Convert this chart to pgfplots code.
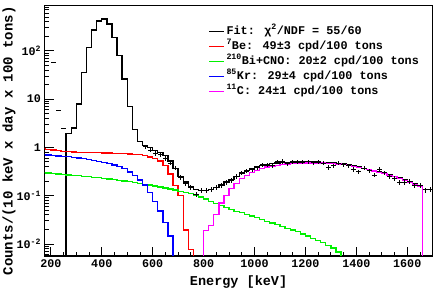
\documentclass[border=0pt]{standalone}
\usepackage{pgfplots}
\pgfplotsset{compat=1.18}
\usepackage{fontspec}
\setmainfont{Liberation Mono}
\definecolor{rootgreen}{RGB}{0,240,0}
\definecolor{rootred}{RGB}{255,0,0}
\definecolor{rootblue}{RGB}{0,0,255}
\definecolor{rootmagenta}{RGB}{255,0,255}
\begin{document}
\begin{tikzpicture}
\begin{axis}[
  scale only axis, width=388.2pt, height=250.3pt,
  xmin=175, xmax=1700, ymode=log, ymin=0.00562, ymax=855,
  axis line style={line width=1.3pt},
  tick pos=left, tick align=inside,
  major tick length=9pt, minor tick length=4.5pt,
  tick style={line width=0.8pt, black},
  xtick={200,400,600,800,1000,1200,1400,1600},
  xticklabels={200,400,600,800,1000,1200,1400,1600},
  minor xtick={250,300,350,450,500,550,650,700,750,850,900,950,1050,1100,1150,1250,1300,1350,1450,1500,1550,1650,1700},
  ytick={0.01,0.1,1,10,100},
  yticklabels={10\textsuperscript{-2},10\textsuperscript{-1},1,10,10\textsuperscript{2}},
  minor ytick={0.006,0.007,0.008,0.009,0.02,0.03,0.04,0.05,0.06,0.07,0.08,0.09,0.2,0.3,0.4,0.5,0.6,0.7,0.8,0.9,2,3,4,5,6,7,8,9,20,30,40,50,60,70,80,90,200,300,400,500,600,700,800},
  tick label style={font=\bfseries\fontsize{11.7}{12}\selectfont},
  xlabel={Energy [keV]},
  ylabel={Counts/(10 keV x day x 100 tons)},
  xlabel style={font=\bfseries\fontsize{13.5}{14}\selectfont, at={(axis description cs:0.5,-0.104)}, anchor=center},
  ylabel style={font=\bfseries\fontsize{14}{15}\selectfont, at={(axis description cs:-0.0914,0.46)}, anchor=center},
  legend style={at={(axis description cs:0.4225,0.929)}, anchor=north west, draw=none, fill=none,
    font=\bfseries\fontsize{11.8}{13}\selectfont, row sep=0pt, inner sep=0pt,
    nodes={inner sep=1.5pt, text height=9pt, text depth=3pt}, cells={anchor=west}},
  legend image code/.code={\draw[#1] (0pt,0pt) -- (15pt,0pt);},
]
% Fit (black)
\addplot[black, line width=1.3pt, const plot] coordinates {
(260,0.0001) (260,1.95) (280,2.5) (300,7.9) (320,35.7) (340,115) (360,268) (380,412) (400,453)
(420,357) (440,189) (460,79) (480,26) (500,6.9) (520,2.35) (540,1.3) (560,1.1) (580,0.98)
(600,0.87) (620,0.78) (640,0.68) (660,0.52) (680,0.37) (700,0.25) (720,0.19) (740,0.155)
(760,0.135) (780,0.127) (800,0.127) (820,0.133) (840,0.147) (860,0.167) (880,0.19) (900,0.215)
(920,0.25) (940,0.29) (960,0.33) (980,0.36) (1000,0.39) (1020,0.42) (1040,0.44) (1060,0.46)
(1080,0.475) (1100,0.485) (1120,0.49) (1140,0.495) (1160,0.5) (1180,0.5) (1200,0.5) (1220,0.5)
(1240,0.495) (1260,0.49) (1280,0.48) (1300,0.47) (1320,0.46) (1340,0.45) (1360,0.43) (1380,0.41)
(1400,0.39) (1420,0.37) (1440,0.35) (1460,0.33) (1480,0.31) (1500,0.29) (1520,0.27) (1540,0.25)
(1560,0.23) (1580,0.21) (1600,0.19) (1620,0.175) (1640,0.16) (1660,0.0001)};
\addlegendentry{Fit: χ\textsuperscript{2}/NDF = 55/60}
% 7Be (red)
\addplot[rootred, line width=1.3pt, const plot] coordinates {
(160,0.93) (180,0.91) (200,0.88) (220,0.86) (240,0.83) (260,0.81) (280,0.80) (300,0.79)
(320,0.785) (340,0.78) (360,0.775) (380,0.77) (400,0.765) (420,0.76) (440,0.75) (460,0.745)
(480,0.735) (500,0.725) (520,0.715) (540,0.70) (560,0.67) (580,0.63) (600,0.58) (620,0.52)
(640,0.42) (660,0.28) (680,0.16) (700,0.10) (720,0.0195) (740,0.0077) (760,0.0001)};
\addlegendentry{\textsuperscript{7}Be: 49±3 cpd/100 tons}
% 210Bi+CNO (green)
\addplot[rootgreen, line width=1.3pt, const plot] coordinates {
(160,0.30) (180,0.295) (200,0.288) (220,0.281) (240,0.275) (260,0.269) (280,0.263) (300,0.257)
(320,0.251) (340,0.245) (360,0.239) (380,0.234) (400,0.228) (420,0.221) (440,0.214) (460,0.207)
(480,0.200) (500,0.193) (520,0.186) (540,0.179) (560,0.172) (580,0.165) (600,0.158) (620,0.151)
(640,0.144) (660,0.137) (680,0.130) (700,0.123) (720,0.116) (740,0.109) (760,0.102) (780,0.094)
(800,0.085) (820,0.075) (840,0.069) (860,0.063) (880,0.057) (900,0.051) (920,0.047) (940,0.044)
(960,0.041) (980,0.038) (1000,0.035) (1020,0.032) (1040,0.029) (1060,0.027) (1080,0.025)
(1100,0.023) (1120,0.021) (1140,0.0195) (1160,0.018) (1180,0.016) (1200,0.0145) (1220,0.013)
(1240,0.0118) (1260,0.0106) (1280,0.0094) (1300,0.0082) (1320,0.0068) (1340,0.005) (1360,0.0001)};
\addlegendentry{\textsuperscript{210}Bi+CNO: 20±2 cpd/100 tons}
% 85Kr (blue)
\addplot[rootblue, line width=1.3pt, const plot] coordinates {
(160,0.70) (180,0.69) (200,0.68) (220,0.665) (240,0.65) (260,0.64) (280,0.62) (300,0.60)
(320,0.58) (340,0.56) (360,0.53) (380,0.51) (400,0.49) (420,0.46) (440,0.43) (460,0.40)
(480,0.36) (500,0.31) (520,0.26) (540,0.21) (560,0.165) (580,0.115) (600,0.075) (620,0.048)
(640,0.028) (660,0.0145) (680,0.0001)};
\addlegendentry{\textsuperscript{85}Kr: 29±4 cpd/100 tons}
% 11C (magenta)
\addplot[rootmagenta, line width=1.3pt, const plot] coordinates {
(800,0.0001) (800,0.019) (820,0.024) (840,0.040) (860,0.070) (880,0.102) (900,0.140) (920,0.180)
(940,0.225) (960,0.265) (980,0.30) (1000,0.335) (1020,0.365) (1040,0.39) (1060,0.41) (1080,0.425)
(1100,0.44) (1120,0.45) (1140,0.46) (1160,0.465) (1180,0.47) (1200,0.475) (1220,0.475)
(1240,0.475) (1260,0.47) (1280,0.465) (1300,0.455) (1320,0.45) (1340,0.44) (1360,0.425)
(1380,0.405) (1400,0.385) (1420,0.365) (1440,0.345) (1460,0.325) (1480,0.305) (1500,0.285)
(1520,0.265) (1540,0.245) (1560,0.225) (1580,0.205) (1600,0.185) (1620,0.17) (1640,0.155)
(1660,0.0001)};
\addlegendentry{\textsuperscript{11}C: 24±1 cpd/100 tons}
% data points
\addplot[black, line width=0.9pt, only marks, mark=+, mark size=0pt, forget plot,
  error bars/.cd, x dir=both, x explicit, y dir=both, y explicit relative, error mark=none,
  error bar style={line width=0.9pt, black}]
  table[x=x, y=y, x error=ex, y error=ey] {
x y ex ey
570 1.03 10 0.1
590 0.88 10 0.1
610 0.75 10 0.1
630 0.70 10 0.1
650 0.59 10 0.1
670 0.47 10 0.1
690 0.37 10 0.1
710 0.24 10 0.12
730 0.18 10 0.12
750 0.149 10 0.12
770 0.108 10 0.12
790 0.127 10 0.12
810 0.13 10 0.12
830 0.135 10 0.12
850 0.15 10 0.12
870 0.16 10 0.12
890 0.19 10 0.12
910 0.21 10 0.12
930 0.255 10 0.12
950 0.30 10 0.1
970 0.32 10 0.1
990 0.34 10 0.1
1010 0.38 10 0.1
1030 0.44 10 0.1
1050 0.43 10 0.1
1070 0.42 10 0.1
1090 0.50 10 0.1
1110 0.51 10 0.1
1130 0.46 10 0.1
1150 0.49 10 0.1
1170 0.50 10 0.1
1190 0.49 10 0.1
1210 0.50 10 0.1
1230 0.48 10 0.1
1250 0.49 10 0.1
1270 0.47 10 0.1
1290 0.385 10 0.1
1310 0.42 10 0.1
1330 0.47 10 0.1
1350 0.44 10 0.1
1370 0.42 10 0.1
1390 0.35 10 0.1
1410 0.31 10 0.1
1430 0.37 10 0.1
1450 0.33 10 0.1
1470 0.267 10 0.1
1490 0.35 10 0.1
1510 0.30 10 0.1
1530 0.246 10 0.1
1550 0.228 10 0.1
1570 0.185 10 0.12
1590 0.19 10 0.12
1610 0.20 10 0.12
1630 0.166 10 0.12
1650 0.166 10 0.12
1670 0.131 10 0.12
1690 0.135 10 0.12
};
\addplot[black, line width=0.9pt, only marks, mark=-, mark size=0pt, forget plot,
  error bars/.cd, x dir=both, x explicit, error mark=none,
  error bar style={line width=0.9pt, black}]
  table[x=x, y=y, x error=ex] {
x y ex
210 56 10
230 5.7 10
250 2.45 10
};
\end{axis}
\pgfresetboundingbox
\path (-44.5pt,-35pt) rectangle (391.5pt,256pt);
\end{tikzpicture}
\end{document}
